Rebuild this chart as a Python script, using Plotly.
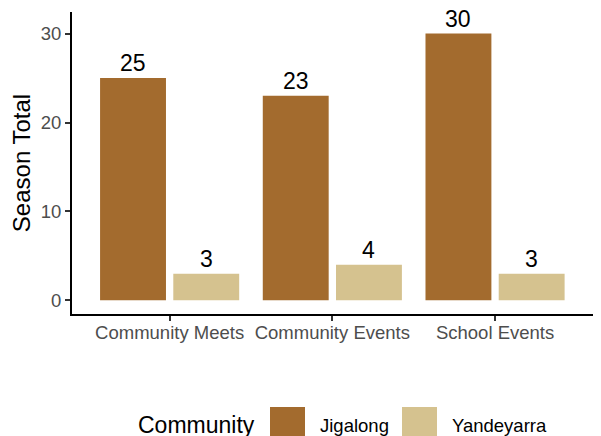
import plotly.graph_objects as go

categories = ["Community Meets", "Community Events", "School Events"]
jigalong = [25, 23, 30]
yandeyarra = [3, 4, 3]
series_names = ["Jigalong", "Yandeyarra"]
colors = ["#A36B2E", "#D5C28F"]
legend_title = "Community"
y_title = "Season Total"
y_ticks = [0, 10, 20, 30]

FONT = "Liberation Sans, Arial, sans-serif"
OFF = 8  # default page body margin
W, H = 601 - OFF, 436 - OFF
L, R, T, B = 72 - OFF, 1, 12 - OFF, 122
PW = W - L - R
PH = H - T - B
X_RANGE = [-0.6, 2.645]
BARGAP, GROUPGAP = 0.1, 0.1

fig = go.Figure()
series = [jigalong, yandeyarra]
for name, vals, col in zip(series_names, series, colors):
    fig.add_trace(go.Bar(
        x=categories, y=vals, name=name, marker_color=col, marker_line_width=0,
        showlegend=False,
    ))

def px_x(p):
    return (p - OFF - L) / PW

def px_y(p):
    return (H - B - (p - OFF)) / PH

shapes = []
annotations = []
# value labels above bars (dodge offsets from group geometry)
unit_px = PW / (X_RANGE[1] - X_RANGE[0])
slot = (1 - BARGAP) / len(series)
for i, vals in enumerate(series):
    shift = (-(1 - BARGAP) / 2 + slot * (i + 0.5)) * unit_px
    for c, v in zip(categories, vals):
        annotations.append(dict(x=c, y=v, xref="x", yref="y", text=str(v), showarrow=False,
                                xanchor="center", yanchor="bottom", xshift=shift, yshift=0,
                                font=dict(family=FONT, size=23, color="black")))
# custom legend
annotations.append(dict(x=px_x(136), y=px_y(425), xref="paper", yref="paper",
                        text=legend_title, showarrow=False, xanchor="left", yanchor="middle",
                        font=dict(family=FONT, size=23, color="black")))
sw_x = [270, 402]
lab_x = [318, 450]
for name, col, sx, lx in zip(series_names, colors, sw_x, lab_x):
    shapes.append(dict(type="rect", xref="paper", yref="paper",
                       x0=px_x(sx), x1=px_x(sx + 35), y0=px_y(436), y1=px_y(407),
                       fillcolor=col, line=dict(width=0)))
    annotations.append(dict(x=px_x(lx), y=px_y(425), xref="paper", yref="paper",
                            text=name, showarrow=False, xanchor="left", yanchor="middle",
                            font=dict(family=FONT, size=18.5, color="black")))

fig.update_layout(
    width=W, height=H,
    margin=dict(l=L, r=R, t=T, b=B),
    paper_bgcolor="white", plot_bgcolor="white",
    barmode="group", bargap=BARGAP, bargroupgap=GROUPGAP,
    font=dict(family=FONT),
    shapes=shapes, annotations=annotations,
    xaxis=dict(
        type="category", range=X_RANGE,
        showline=True, linecolor="black", linewidth=2,
        ticks="outside", ticklen=5, tickwidth=1.5, tickcolor="#333333",
        tickfont=dict(family=FONT, size=18.5, color="#4D4D4D"),
        ticklabelstandoff=-4,
        showgrid=False, zeroline=False, fixedrange=True,
    ),
    yaxis=dict(
        range=[-1.54, 32.43],
        tickvals=y_ticks,
        showline=True, linecolor="black", linewidth=2,
        ticks="outside", ticklen=5, tickwidth=1.5, tickcolor="#333333",
        tickfont=dict(family=FONT, size=18.5, color="#4D4D4D"),
        title=dict(text=y_title, font=dict(family=FONT, size=24, color="black"), standoff=8),
        showgrid=False, zeroline=False,
    ),
)

fig.write_html("out.html")
